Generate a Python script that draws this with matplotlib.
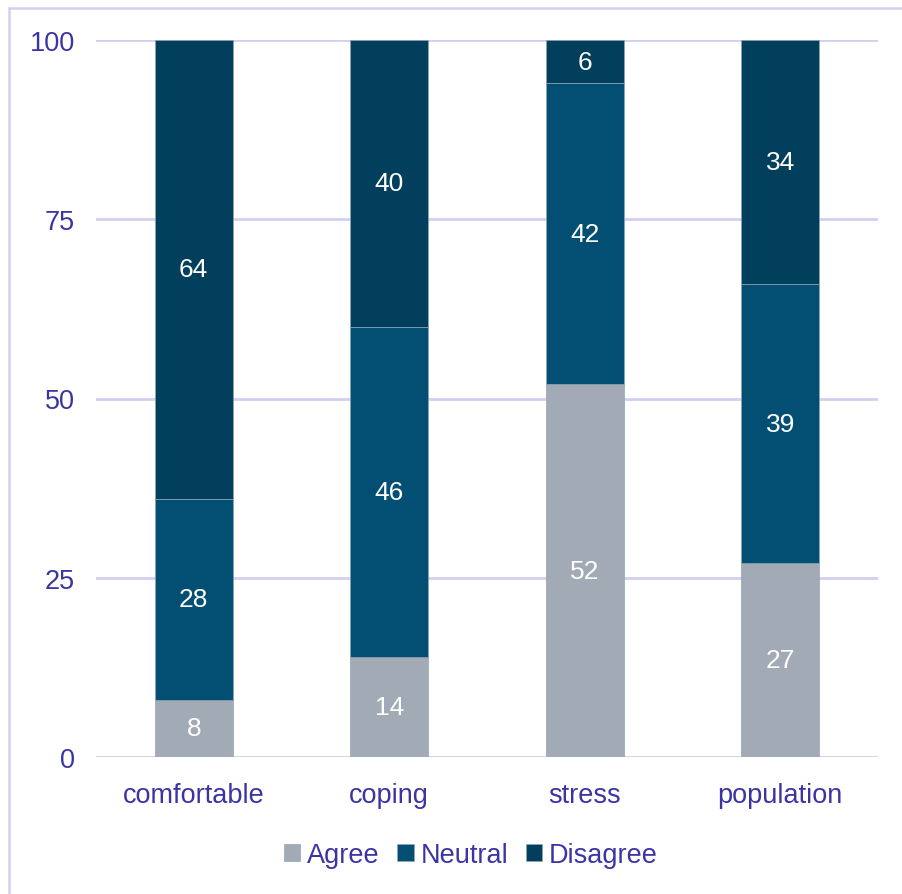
"""
Stacked agreement bars (Agree / Neutral / Disagree) per statement
"""

import matplotlib
matplotlib.use('Agg')  # Non-interactive backend
import matplotlib.pyplot as plt
from matplotlib.patches import Rectangle
import numpy as np

categories = ['comfortable', 'coping', 'stress', 'population']
agree = [8, 14, 52, 27]
neutral = [28, 46, 42, 39]
disagree = [64, 40, 6, 34]
series_names = ['Agree', 'Neutral', 'Disagree']
y_ticks = [0, 25, 50, 75, 100]

TEXT = '#3b35a3'
GRID = '#d3cff0'
colors = ['#a2abb5', '#034f73', '#023f5c']

plt.rcParams['font.family'] = ['Liberation Sans', 'DejaVu Sans']

fig = plt.figure(figsize=(9.02, 8.95), dpi=100)
ax = fig.add_axes([96 / 902, 1 - 758 / 895, (878 - 96) / 902, (758 - 41) / 895])

# Outer frame around the chart area
fig.patches.append(Rectangle((9 / 902, -0.05), 1.1, 1 - 9 / 895 + 0.05,
                             transform=fig.transFigure, fill=False,
                             edgecolor=GRID, linewidth=1.8))

x = np.arange(len(categories))
bottom = np.zeros(len(categories))
for name, vals, color in zip(series_names, [agree, neutral, disagree], colors):
    vals = np.array(vals, dtype=float)
    ax.bar(x, vals, width=0.4, bottom=bottom, color=color, label=name,
           edgecolor='#8fa6b5', linewidth=0.5, zorder=3)
    for xi, b, v in zip(x, bottom, vals):
        ax.text(xi, b + v / 2, f'{v:.0f}', ha='center', va='center',
                color='white', fontsize=19, zorder=4)
    bottom += vals

ax.set_xlim(-0.5, 3.5)
ax.set_ylim(0, 100)
ax.set_yticks(y_ticks)
ax.set_xticks(x)
ax.set_xticklabels(categories)
ax.tick_params(axis='both', length=0, labelsize=19.5, colors=TEXT)
ax.tick_params(axis='y', pad=15)
ax.tick_params(axis='x', pad=18)
ax.grid(axis='y', color=GRID, linewidth=2, zorder=0)
ax.set_axisbelow(True)
for spine in ax.spines.values():
    spine.set_visible(False)

leg = fig.legend(loc='center', bbox_to_anchor=(0.522, 1 - 856 / 895), ncol=3,
                 frameon=False, fontsize=19.5, handlelength=0.6, handleheight=0.6,
                 handletextpad=0.25, columnspacing=0.65)
for t in leg.get_texts():
    t.set_color(TEXT)

plt.savefig('out.png', dpi=100)
plt.close(fig)
